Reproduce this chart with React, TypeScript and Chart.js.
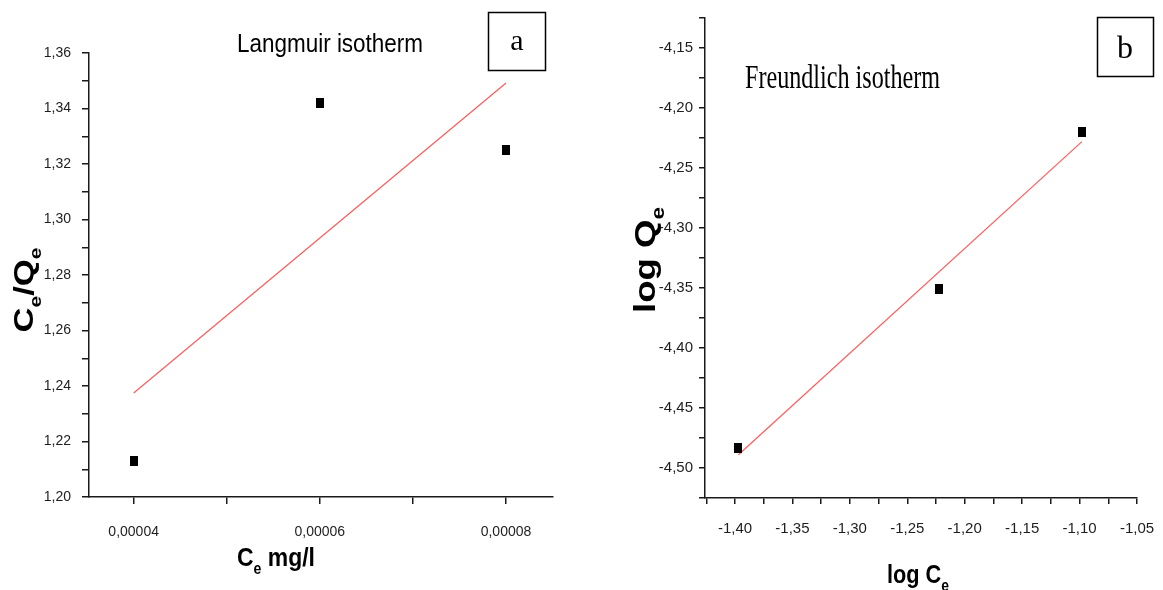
import React, { useEffect, useRef } from 'react';
import { Chart, registerables } from 'chart.js';

Chart.register(...registerables);

// ---------- (a) Langmuir isotherm ----------
const langmuirX = [0.00004, 0.00006, 0.00008];
const langmuirY = [1.213, 1.342, 1.325];
const langmuirFitX = [0.00004, 0.00008];
const langmuirFitY = [1.2375, 1.3492];
const langmuirXMajor = [0.00004, 0.00006, 0.00008];
const langmuirXMinor = [0.00005, 0.00007];
const langmuirXLabels = ['0,00004', '0,00006', '0,00008'];
const langmuirYMajor = [1.2, 1.22, 1.24, 1.26, 1.28, 1.3, 1.32, 1.34, 1.36];
const langmuirYMinor = [1.21, 1.23, 1.25, 1.27, 1.29, 1.31, 1.33, 1.35];
const langmuirYLabels = ['1,20', '1,22', '1,24', '1,26', '1,28', '1,30', '1,32', '1,34', '1,36'];

// ---------- (b) Freundlich isotherm ----------
const freundlichX = [-1.397, -1.222, -1.098];
const freundlichY = [-4.483, -4.351, -4.22];
const freundlichFitX = [-1.397, -1.098];
const freundlichFitY = [-4.489, -4.228];
const freundlichXMajor = [-1.4, -1.35, -1.3, -1.25, -1.2, -1.15, -1.1, -1.05];
const freundlichXMinor = [-1.425, -1.375, -1.325, -1.275, -1.225, -1.175, -1.125, -1.075];
const freundlichXLabels = ['-1,40', '-1,35', '-1,30', '-1,25', '-1,20', '-1,15', '-1,10', '-1,05'];
const freundlichYMajor = [-4.5, -4.45, -4.4, -4.35, -4.3, -4.25, -4.2, -4.15];
const freundlichYMinor = [-4.525, -4.475, -4.425, -4.375, -4.325, -4.275, -4.225, -4.175, -4.125];
const freundlichYLabels = ['-4,50', '-4,45', '-4,40', '-4,35', '-4,30', '-4,25', '-4,20', '-4,15'];

const AXIS_COLOR = '#1a1a1a';
const LABEL_COLOR = '#1e1e1e';
const SANS = '"Liberation Sans", Arial, sans-serif';
const SERIF = '"Liberation Serif", "Times New Roman", serif';

function makeMarker(): HTMLCanvasElement {
  const c = document.createElement('canvas');
  c.width = 8;
  c.height = 10;
  const g = c.getContext('2d')!;
  g.fillStyle = '#000';
  g.fillRect(0, 0, 8, 10);
  return c;
}

type Part = { t: string; sub?: boolean };

function drawRich(
  ctx: CanvasRenderingContext2D,
  parts: Part[],
  cx: number,
  baseline: number,
  size: number,
  targetW: number,
  rotated: boolean
) {
  const subSize = Math.round(size * 0.62);
  const mainFont = `bold ${size}px ${SANS}`;
  const subFont = `bold ${subSize}px ${SANS}`;
  let W = 0;
  const widths = parts.map((p) => {
    ctx.font = p.sub ? subFont : mainFont;
    const w = ctx.measureText(p.t).width;
    W += w;
    return w;
  });
  ctx.save();
  ctx.fillStyle = '#000';
  ctx.textBaseline = 'alphabetic';
  ctx.textAlign = 'left';
  if (rotated) {
    ctx.translate(baseline, cx);
    ctx.rotate(-Math.PI / 2);
  } else {
    ctx.translate(cx, baseline);
  }
  ctx.scale(targetW / W, 1);
  let x = -W / 2;
  parts.forEach((p, i) => {
    ctx.font = p.sub ? subFont : mainFont;
    ctx.fillText(p.t, x, p.sub ? size * 0.3 : 0);
    x += widths[i];
  });
  ctx.restore();
}

function makeTicks(major: number[], minor: number[]) {
  return (scale: any) => {
    scale.ticks = [...major, ...minor].sort((a, b) => a - b).map((v) => ({ value: v }));
  };
}

function labelFor(major: number[], labels: string[]) {
  return (value: any) => {
    const v = Number(value);
    const i = major.findIndex((m) => Math.abs(m - v) < Math.abs(m) * 1e-6 + 1e-12);
    return i >= 0 ? labels[i] : '';
  };
}

function axis(
  min: number,
  max: number,
  major: number[],
  minor: number[],
  labels: string[],
  isY: boolean,
  size: number,
  padding: number,
  tickLength: number,
  fontSize: number
) {
  return {
    type: 'linear',
    position: isY ? 'left' : 'bottom',
    min,
    max,
    afterBuildTicks: makeTicks(major, minor),
    afterFit: (scale: any) => {
      if (isY) scale.width = size;
      else scale.height = size;
    },
    grid: {
      drawOnChartArea: false,
      drawTicks: true,
      tickLength,
      color: AXIS_COLOR,
      lineWidth: 1.5,
    },
    border: { display: true, color: AXIS_COLOR, width: 1.5 },
    ticks: {
      autoSkip: false,
      maxRotation: 0,
      minRotation: 0,
      includeBounds: false,
      padding,
      color: LABEL_COLOR,
      font: { family: SANS, size: fontSize },
      callback: labelFor(major, labels),
    },
  };
}

function buildLangmuir(marker: HTMLCanvasElement): any {
  const annot = {
    id: 'annotA',
    afterDraw(chart: any) {
      const ctx: CanvasRenderingContext2D = chart.ctx;
      ctx.save();
      ctx.fillStyle = '#000';
      ctx.font = `26px ${SANS}`;
      ctx.textAlign = 'left';
      ctx.textBaseline = 'alphabetic';
      ctx.fillText('Langmuir isotherm', 237, 52, 186);
      ctx.strokeStyle = '#000';
      ctx.lineWidth = 1.5;
      ctx.strokeRect(488.5, 12.5, 57, 58);
      ctx.font = `30px ${SERIF}`;
      ctx.textAlign = 'center';
      ctx.fillText('a', 517, 50);
      ctx.restore();
      drawRich(ctx, [{ t: 'C' }, { t: 'e', sub: true }, { t: '/Q' }, { t: 'e', sub: true }], 290, 33, 28, 85, true);
      drawRich(ctx, [{ t: 'C' }, { t: 'e', sub: true }, { t: ' mg/l' }], 276, 566, 26, 78, false);
    },
  };
  return {
    type: 'scatter',
    data: {
      datasets: [
        {
          label: 'Ce/Qe',
          data: langmuirX.map((x, i) => ({ x, y: langmuirY[i] })),
          pointStyle: marker,
          pointRadius: 5,
          showLine: false,
          clip: false,
        },
        {
          label: 'Linear fit',
          data: langmuirFitX.map((x, i) => ({ x, y: langmuirFitY[i] })),
          showLine: true,
          pointRadius: 0,
          borderColor: 'rgba(255,50,50,0.8)',
          borderWidth: 1.2,
          clip: false,
        },
      ],
    },
    options: {
      responsive: false,
      animation: false,
      devicePixelRatio: 1,
      layout: { padding: { left: 0, top: 53, right: 27, bottom: 0 } },
      plugins: { legend: { display: false }, tooltip: { enabled: false } },
      scales: {
        x: axis(0.0000352, 0.00008505, langmuirXMajor, langmuirXMinor, langmuirXLabels, false, 93, 20, 7, 14),
        y: axis(1.2, 1.36, langmuirYMajor, langmuirYMinor, langmuirYLabels, true, 89, 11, 7, 14),
      },
    },
    plugins: [annot],
  };
}

const RIGHT_W = 600;

function buildFreundlich(marker: HTMLCanvasElement): any {
  const OX = 580;
  const annot = {
    id: 'annotB',
    afterDraw(chart: any) {
      const ctx: CanvasRenderingContext2D = chart.ctx;
      ctx.save();
      ctx.fillStyle = '#000';
      ctx.font = `33px ${SERIF}`;
      ctx.textAlign = 'left';
      ctx.textBaseline = 'alphabetic';
      ctx.fillText('Freundlich isotherm', 745 - OX, 88, 195);
      ctx.strokeStyle = '#000';
      ctx.lineWidth = 1.5;
      ctx.strokeRect(1097.5 - OX, 17.5, 56, 59);
      ctx.font = `32px ${SERIF}`;
      ctx.textAlign = 'center';
      ctx.fillText('b', 1125 - OX, 58);
      ctx.restore();
      drawRich(ctx, [{ t: 'log Q' }, { t: 'e', sub: true }], 260, 655 - OX, 29, 106, true);
      drawRich(ctx, [{ t: 'log C' }, { t: 'e', sub: true }], 918 - OX, 583, 25, 62, false);
    },
  };
  return {
    type: 'scatter',
    data: {
      datasets: [
        {
          label: 'log Qe',
          data: freundlichX.map((x, i) => ({ x, y: freundlichY[i] })),
          pointStyle: marker,
          pointRadius: 5,
          showLine: false,
          clip: false,
        },
        {
          label: 'Linear fit',
          data: freundlichFitX.map((x, i) => ({ x, y: freundlichFitY[i] })),
          showLine: true,
          pointRadius: 0,
          borderColor: 'rgba(255,50,50,0.8)',
          borderWidth: 1.2,
          clip: false,
        },
      ],
    },
    options: {
      responsive: false,
      animation: false,
      devicePixelRatio: 1,
      layout: { padding: { left: 0, top: 18, right: RIGHT_W - (1137 - OX), bottom: 0 } },
      plugins: { legend: { display: false }, tooltip: { enabled: false } },
      scales: {
        x: axis(-1.4261, -1.05, freundlichXMajor, freundlichXMinor, freundlichXLabels, false, 92, 16, 6, 15),
        y: axis(-4.525, -4.125, freundlichYMajor, freundlichYMinor, freundlichYLabels, true, 125, 6, 6, 15),
      },
    },
    plugins: [annot],
  };
}

function ChartCanvas({ build, left, width }: { build: (m: HTMLCanvasElement) => any; left: number; width: number }) {
  const ref = useRef<HTMLCanvasElement | null>(null);
  useEffect(() => {
    if (!ref.current) return;
    const chart = new Chart(ref.current, build(makeMarker()));
    return () => chart.destroy();
  }, [build]);
  return (
    <canvas
      ref={ref}
      width={width}
      height={590}
      style={{ position: 'absolute', left, top: 0, width, height: 590 }}
    />
  );
}

export default function App() {
  return (
    <div
      style={{
        position: 'absolute',
        left: 0,
        top: 0,
        width: 1163,
        height: 590,
        background: '#fff',
        overflow: 'hidden',
      }}
    >
      <ChartCanvas build={buildLangmuir} left={0} width={580} />
      <ChartCanvas build={buildFreundlich} left={580} width={RIGHT_W} />
    </div>
  );
}
